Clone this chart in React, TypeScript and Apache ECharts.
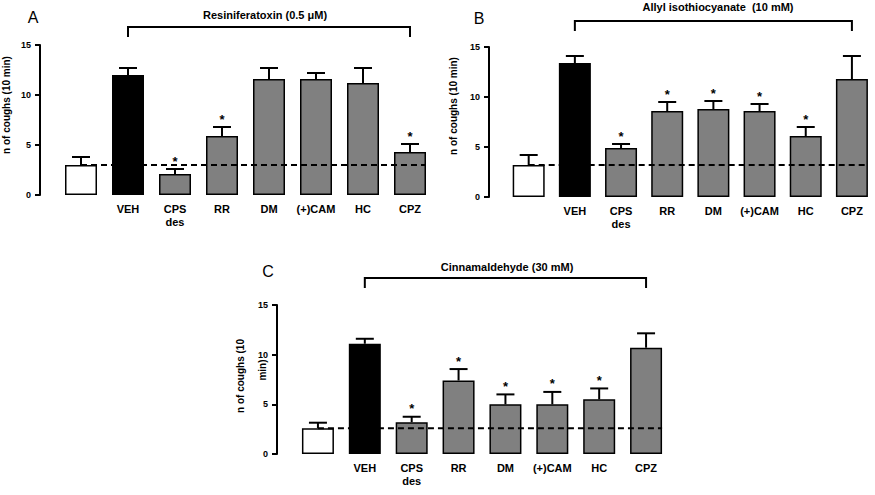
import React, { useEffect, useRef } from "react";
import * as echarts from "echarts";

// ---- data ----
const categories = ["", "VEH", "CPS\ndes", "RR", "DM", "(+)CAM", "HC", "CPZ"];
const yMin = 0;
const yMax = 15;
const yStep = 5;
const yAxisName = "n of coughs (10 min)";

const titleA = "Resiniferatoxin (0.5 μM)";
const meanA = [3.0, 12.0, 2.1, 5.9, 11.6, 11.6, 11.2, 4.3];
const semA = [0.8, 0.7, 0.5, 0.9, 1.1, 0.6, 1.5, 0.8];
const sigA = [0, 0, 1, 1, 0, 0, 0, 1];

const titleB = "Allyl isothiocyanate  (10 mM)";
const meanB = [3.2, 13.4, 4.9, 8.6, 8.8, 8.6, 6.1, 11.8];
const semB = [1.0, 0.7, 0.4, 0.9, 0.8, 0.7, 0.9, 2.3];
const sigB = [0, 0, 1, 1, 1, 1, 1, 0];

const titleC = "Cinnamaldehyde (30 mM)";
const meanC = [2.6, 11.1, 3.2, 7.4, 5.0, 5.0, 5.5, 10.7];
const semC = [0.55, 0.5, 0.55, 1.15, 1.0, 1.25, 1.1, 1.45];
const sigC = [0, 0, 1, 1, 1, 1, 1, 0];

// ---- layout ----
const FONT = "'Liberation Sans', Arial, sans-serif";
const panels = [
  {
    letter: "A", title: titleA, mean: meanA, sem: semA, sig: sigA,
    grid: { left: 57.5, top: 45, width: 376, height: 150 }, axisOffset: 17.5,
    titleX: 265, titleY: 15, bracketGap: 18, letterX: 33, letterY: 17,
    nameLines: [{ text: yAxisName, x: 6, y: 105 }],
  },
  {
    letter: "B", title: titleB, mean: meanB, sem: semB, sig: sigB,
    grid: { left: 505.6, top: 47, width: 373.6, height: 150 }, axisOffset: 16.6,
    titleX: 718, titleY: 7, bracketGap: 26, letterX: 479, letterY: 18,
    nameLines: [{ text: yAxisName, x: 453, y: 106 }],
  },
  {
    letter: "C", title: titleC, mean: meanC, sem: semC, sig: sigC,
    grid: { left: 294.5, top: 305, width: 375, height: 149 }, axisOffset: 17.5,
    titleX: 507, titleY: 267, bracketGap: 27, letterX: 268, letterY: 271,
    nameLines: [
      { text: "n of coughs (10", x: 240, y: 376 },
      { text: "min)", x: 262, y: 370 },
    ],
  },
];

function barColor(i: number) {
  if (i === 0) return "#ffffff";
  if (i === 1) return "#000000";
  return "#808080";
}

export default function App() {
  const ref = useRef<HTMLDivElement>(null);
  useEffect(() => {
    document.body.style.margin = "0";
    const chart = echarts.init(ref.current!, undefined, { renderer: "svg" });
    const grids: any[] = [];
    const xAxes: any[] = [];
    const yAxes: any[] = [];
    const series: any[] = [];
    const graphics: any[] = [];

    panels.forEach((p, k) => {
      grids.push({ ...p.grid, containLabel: false });
      xAxes.push({
        type: "category", gridIndex: k, data: categories,
        axisLine: { show: false }, axisTick: { show: false },
        axisLabel: {
          color: "#000", fontFamily: FONT, fontWeight: "bold", fontSize: 11,
          lineHeight: 13, margin: 7, interval: 0,
        },
      });
      yAxes.push({
        type: "value", gridIndex: k, min: yMin, max: yMax, interval: yStep,
        offset: p.axisOffset, splitLine: { show: false },
        axisLine: { show: true, lineStyle: { color: "#000", width: 2 } },
        axisTick: { show: true, length: 5, lineStyle: { color: "#000", width: 2 } },
        axisLabel: { color: "#000", fontFamily: FONT, fontWeight: "bold", fontSize: 9, margin: 9 },
      });
      series.push({
        type: "bar", xAxisIndex: k, yAxisIndex: k, barWidth: 32,
        data: p.mean.map((v, i) => ({
          value: v,
          itemStyle: { color: barColor(i), borderColor: "#000", borderWidth: 1.5 },
        })),
      });
      series.push({
        type: "custom", xAxisIndex: k, yAxisIndex: k,
        encode: { x: 0, y: 1 },
        data: p.mean.map((v, i) => [i, v, p.sem[i], p.sig[i]]),
        renderItem: (params: any, api: any) => {
          const i = api.value(0), m = api.value(1), e = api.value(2), s = api.value(3);
          const base = api.coord([i, m]);
          const top = api.coord([i, m + e]);
          const children: any[] = [
            { type: "line", shape: { x1: base[0], y1: base[1], x2: top[0], y2: top[1] }, style: { stroke: "#000", lineWidth: 2 } },
            { type: "line", shape: { x1: top[0] - 9, y1: top[1], x2: top[0] + 9, y2: top[1] }, style: { stroke: "#000", lineWidth: 2 } },
          ];
          if (s) {
            children.push({
              type: "text", x: top[0], y: top[1] - 8,
              style: { text: "*", fontSize: 13, fontWeight: "bold", fontFamily: FONT, fill: "#000", align: "center", verticalAlign: "middle" },
            });
          }
          return { type: "group", children };
        },
        z: 3,
      });
      const ctrl = p.mean[0];
      const gap = p.bracketGap;
      series.push({
        type: "custom", xAxisIndex: k, yAxisIndex: k,
        encode: { x: 0, y: 1 },
        data: [[0, ctrl]],
        renderItem: (params: any, api: any) => {
          const s = api.coord([0, ctrl]);
          const e = api.coord([categories.length - 1, ctrl]);
          const vx = api.coord([1, yMax])[0];
          const zx = api.coord([categories.length - 1, yMax])[0];
          const gTop = api.coord([0, yMax])[1];
          const by = gTop - gap;
          return {
            type: "group",
            children: [
              { type: "line", shape: { x1: s[0], y1: s[1], x2: e[0] + 16, y2: e[1] }, style: { stroke: "#000", lineWidth: 2, lineDash: [6, 4] } },
              { type: "polyline", shape: { points: [[vx, by + 10], [vx, by], [zx, by], [zx, by + 10]] }, style: { stroke: "#000", lineWidth: 2, fill: "none" } },
            ],
          };
        },
        z: 4,
      });
      graphics.push({
        type: "text", x: p.titleX, y: p.titleY,
        style: { text: p.title, fontSize: 11, fontWeight: "bold", fontFamily: FONT, fill: "#000", align: "center", verticalAlign: "middle", textAlign: "center", textVerticalAlign: "middle" },
      });
      graphics.push({
        type: "text", x: p.letterX, y: p.letterY,
        style: { text: p.letter, fontSize: 16, fontFamily: FONT, fill: "#000", align: "center", verticalAlign: "middle", textAlign: "center", textVerticalAlign: "middle" },
      });
      p.nameLines.forEach((nl) => {
        graphics.push({
          type: "text", x: nl.x, y: nl.y, rotation: Math.PI / 2,
          style: { text: nl.text, fontSize: 10, fontWeight: "bold", fontFamily: FONT, fill: "#000", align: "center", verticalAlign: "middle", textAlign: "center", textVerticalAlign: "middle" },
        });
      });
    });

    chart.setOption({
      animation: false,
      backgroundColor: "#ffffff",
      grid: grids,
      xAxis: xAxes,
      yAxis: yAxes,
      series,
      graphic: graphics,
    });
    return () => chart.dispose();
  }, []);
  return <div ref={ref} style={{ width: 875, height: 495 }} />;
}
